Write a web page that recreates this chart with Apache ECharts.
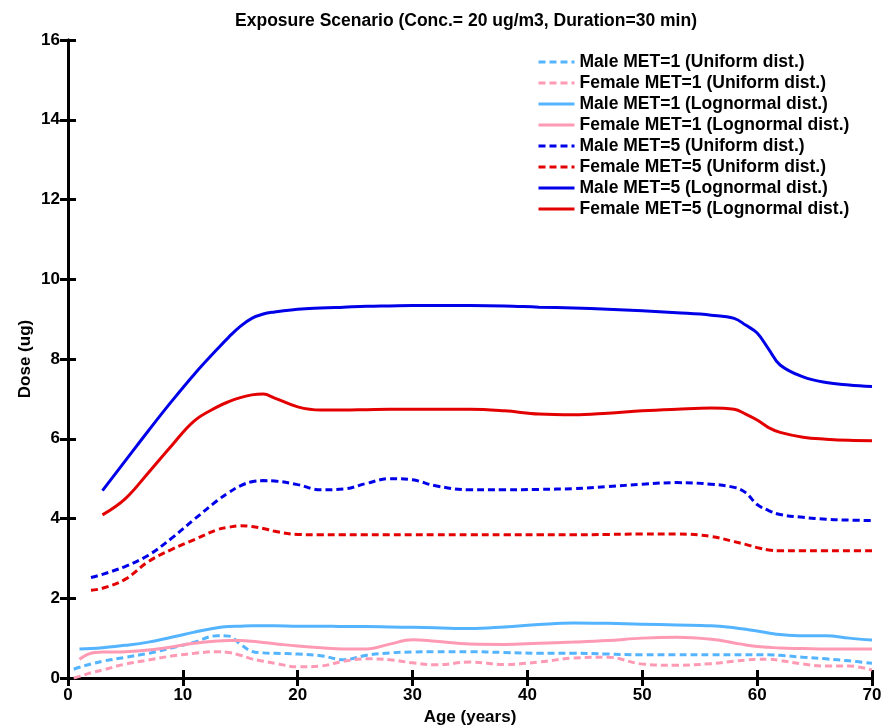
<!DOCTYPE html>
<html>
<head>
<meta charset="utf-8">
<script src="https://cdn.jsdelivr.net/npm/echarts@6/dist/echarts.min.js"></script>
<style>
  html, body { margin: 0; padding: 0; background: #fff; }
  #main { width: 882px; height: 726px; }
</style>
</head>
<body>
<div id="main"></div>
<script>
// ages (years) shared by all curves; null = curve not started yet
var ages = [0.5, 1, 2, 3, 5, 7, 9, 11, 13, 14, 15, 16, 17, 18, 20, 22, 24, 26, 28, 30, 32, 35, 38, 41, 44, 47, 50, 53, 56, 58, 59, 60, 61, 62, 64, 66, 68, 70];

var maleMet1Unif = [0.22, 0.27, 0.35, 0.42, 0.52, 0.62, 0.75, 0.9, 1.06, 1.05, 0.85, 0.67, 0.63, 0.62, 0.6, 0.56, 0.46, 0.57, 0.63, 0.65, 0.66, 0.66, 0.64, 0.62, 0.62, 0.6, 0.58, 0.58, 0.58, 0.58, 0.58, 0.58, 0.58, 0.57, 0.52, 0.48, 0.43, 0.37];
var femaleMet1Unif = [0.0, 0.04, 0.13, 0.2, 0.35, 0.45, 0.55, 0.62, 0.66, 0.64, 0.57, 0.48, 0.42, 0.37, 0.28, 0.3, 0.42, 0.48, 0.46, 0.38, 0.33, 0.4, 0.34, 0.4, 0.5, 0.52, 0.35, 0.32, 0.36, 0.42, 0.45, 0.47, 0.47, 0.44, 0.35, 0.3, 0.3, 0.2];
var maleMet1Logn = [null, 0.73, 0.74, 0.76, 0.82, 0.9, 1.02, 1.15, 1.26, 1.29, 1.3, 1.31, 1.31, 1.31, 1.3, 1.3, 1.29, 1.29, 1.28, 1.27, 1.26, 1.24, 1.28, 1.34, 1.38, 1.37, 1.35, 1.33, 1.31, 1.26, 1.22, 1.18, 1.13, 1.09, 1.06, 1.06, 1.0, 0.95];
var femaleMet1Logn = [null, 0.47, 0.62, 0.65, 0.66, 0.7, 0.78, 0.87, 0.93, 0.94, 0.94, 0.92, 0.89, 0.86, 0.8, 0.76, 0.73, 0.73, 0.85, 0.96, 0.92, 0.85, 0.84, 0.87, 0.9, 0.94, 1.0, 1.02, 0.97, 0.88, 0.83, 0.79, 0.77, 0.75, 0.74, 0.73, 0.73, 0.73];
var maleMet5Unif = [null, null, 2.52, 2.6, 2.8, 3.08, 3.5, 3.98, 4.45, 4.65, 4.82, 4.92, 4.95, 4.94, 4.85, 4.72, 4.74, 4.88, 5.0, 4.97, 4.82, 4.72, 4.72, 4.73, 4.75, 4.8, 4.86, 4.9, 4.86, 4.78, 4.65, 4.35, 4.2, 4.1, 4.03, 3.98, 3.96, 3.95];
var femaleMet5Unif = [null, null, 2.2, 2.25, 2.48, 2.92, 3.22, 3.47, 3.72, 3.78, 3.82, 3.8, 3.75, 3.68, 3.6, 3.59, 3.59, 3.59, 3.59, 3.59, 3.59, 3.59, 3.59, 3.59, 3.59, 3.6, 3.61, 3.61, 3.55, 3.42, 3.35, 3.27, 3.21, 3.19, 3.19, 3.19, 3.19, 3.19];
var maleMet5Logn = [null, null, null, 4.7, 5.45, 6.2, 6.93, 7.62, 8.25, 8.55, 8.82, 9.02, 9.13, 9.18, 9.25, 9.28, 9.3, 9.32, 9.33, 9.34, 9.34, 9.34, 9.33, 9.3, 9.28, 9.25, 9.21, 9.16, 9.1, 9.02, 8.85, 8.65, 8.25, 7.85, 7.55, 7.41, 7.35, 7.31];
var femaleMet5Logn = [null, null, null, 4.09, 4.5, 5.15, 5.82, 6.45, 6.8, 6.93, 7.03, 7.1, 7.12, 7.02, 6.8, 6.72, 6.72, 6.73, 6.74, 6.74, 6.74, 6.74, 6.7, 6.62, 6.6, 6.64, 6.7, 6.74, 6.77, 6.74, 6.62, 6.47, 6.28, 6.16, 6.04, 5.99, 5.96, 5.95];

var names = [
  'Male MET=1 (Uniform dist.)',
  'Female MET=1 (Uniform dist.)',
  'Male MET=1 (Lognormal dist.)',
  'Female MET=1 (Lognormal dist.)',
  'Male MET=5 (Uniform dist.)',
  'Female MET=5 (Uniform dist.)',
  'Male MET=5 (Lognormal dist.)',
  'Female MET=5 (Lognormal dist.)'
];
var values = [maleMet1Unif, femaleMet1Unif, maleMet1Logn, femaleMet1Logn, maleMet5Unif, femaleMet5Unif, maleMet5Logn, femaleMet5Logn];
var colors = ['#55b4ff', '#ff9ab4', '#55b4ff', '#ff9ab4', '#0000e8', '#e30000', '#0000e8', '#e30000'];
var dashed = [true, true, false, false, true, true, false, false];

function pairs(vals) {
  return ages.map(function (a, i) { return [a, vals[i]]; })
    .filter(function (p) { return p[1] !== null; });
}

var font = 'Liberation Sans, Arial, Helvetica, sans-serif';
var axisLine = { show: true, lineStyle: { color: '#000', width: 3 } };
var tick = { show: true, inside: true, length: 8, lineStyle: { color: '#000', width: 3 } };
var labelStyle = { fontFamily: font, fontSize: 17, fontWeight: 'bold', color: '#000' };

var chart = echarts.init(document.getElementById('main'));

var option = {
  animation: false,
  backgroundColor: '#fff',
  title: {
    text: 'Exposure Scenario (Conc.= 20 ug/m3, Duration=30 min)',
    left: 461,
    textAlign: 'center',
    top: 7,
    textStyle: { fontFamily: font, fontSize: 17.5, fontWeight: 'bold', color: '#000' }
  },
  legend: {
    orient: 'vertical',
    left: 537,
    top: 53,
    padding: 0,
    itemWidth: 36,
    itemHeight: 14,
    itemGap: 3,
    data: names,
    itemStyle: { opacity: 0 },
    lineStyle: { width: 3 },
    textStyle: { fontFamily: font, fontSize: 17.5, fontWeight: 'bold', color: '#000' }
  },
  grid: { left: 68, right: 10, top: 40, bottom: 48, outerBoundsMode: 'none' },
  xAxis: [{
    type: 'value', min: 0, max: 70, interval: 10,
    name: 'Age (years)', nameLocation: 'middle', nameGap: 30,
    nameTextStyle: labelStyle,
    axisLine: axisLine, axisTick: tick,
    axisLabel: Object.assign({ margin: 9 }, labelStyle),
    splitLine: { show: false }
  }, {
    type: 'value', min: 0, max: 70, interval: 10, position: 'top',
    axisLine: axisLine, axisTick: tick, axisLabel: { show: false }, splitLine: { show: false }
  }],
  yAxis: [{
    type: 'value', min: 0, max: 16, interval: 2,
    name: 'Dose (ug)', nameLocation: 'middle', nameGap: 34, nameRotate: 90,
    nameMoveOverlap: false,
    nameTextStyle: labelStyle,
    axisLine: axisLine, axisTick: tick,
    axisLabel: Object.assign({ margin: 8 }, labelStyle),
    splitLine: { show: false }
  }, {
    type: 'value', min: 0, max: 16, interval: 2, position: 'right',
    axisLine: axisLine, axisTick: tick, axisLabel: { show: false }, splitLine: { show: false }
  }],
  series: names.map(function (n, i) {
    return {
      name: n,
      type: 'line',
      xAxisIndex: 0,
      yAxisIndex: 0,
      smooth: 0.4,
      symbol: 'none',
      data: pairs(values[i]),
      color: colors[i],
      lineStyle: { color: colors[i], width: 3, type: dashed[i] ? [7, 4] : 'solid' }
    };
  })
};

chart.setOption(option);
</script>
</body>
</html>
